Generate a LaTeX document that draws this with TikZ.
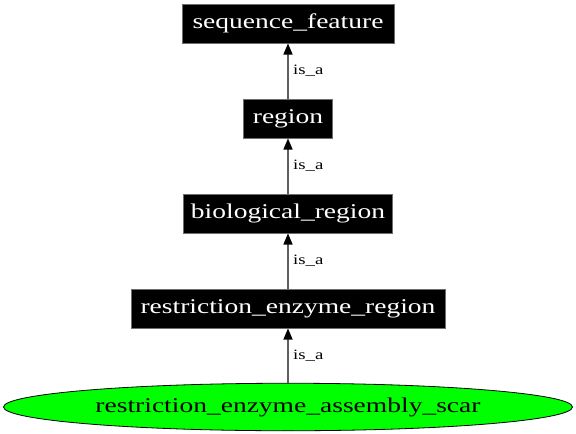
\documentclass[tikz,border=0pt]{standalone}
\usepackage{fontspec}
\setmainfont{Liberation Serif}
\usetikzlibrary{arrows.meta,shapes.geometric}
\definecolor{edgegray}{RGB}{95,95,95}
\definecolor{bordergray}{RGB}{110,110,110}
\definecolor{scargreen}{RGB}{0,255,0}
\newcommand{\widetext}[1]{\scalebox{1.31}[1]{#1}}
\begin{document}
\begin{tikzpicture}[x=1pt,y=-1pt,
  termbox/.style={rectangle, fill=black, draw=bordergray, line width=1pt,
    text=white, inner sep=0pt, minimum height=39pt,
    font=\fontsize{21}{24}\selectfont},
  scarnode/.style={ellipse, fill=scargreen, draw=black, line width=0.8pt,
    inner sep=0pt, minimum width=569pt, minimum height=47.5pt,
    font=\fontsize{21}{24}\selectfont},
  isa/.style={draw=edgegray, line width=1.3pt,
    -{Triangle[length=11pt,width=9pt,color=black]}},
  lbl/.style={right, inner sep=0pt, xshift=4.5pt, font=\fontsize{14.3}{16}\selectfont}]
\useasboundingbox (0,0) rectangle (576,434);
\node[termbox, minimum width=212pt] (sf) at (288,23.5) {\widetext{sequence\_feature}};
\node[termbox, minimum width=89pt] (rg) at (288,118.5) {\widetext{region}};
\node[termbox, minimum width=209pt] (br) at (288,213.5) {\widetext{biological\_region}};
\node[termbox, minimum width=314pt] (rer) at (288,308.5) {\widetext{restriction\_enzyme\_region}};
\node[scarnode] (scar) at (288,407) {\widetext{restriction\_enzyme\_assembly\_scar}};
\draw[isa] (rg.north) -- (sf.south) node[lbl, midway] {\widetext{is\_a}};
\draw[isa] (br.north) -- (rg.south) node[lbl, midway] {\widetext{is\_a}};
\draw[isa] (rer.north) -- (br.south) node[lbl, midway] {\widetext{is\_a}};
\draw[isa] (scar.north) -- (rer.south) node[lbl, midway] {\widetext{is\_a}};
\end{tikzpicture}
\end{document}
